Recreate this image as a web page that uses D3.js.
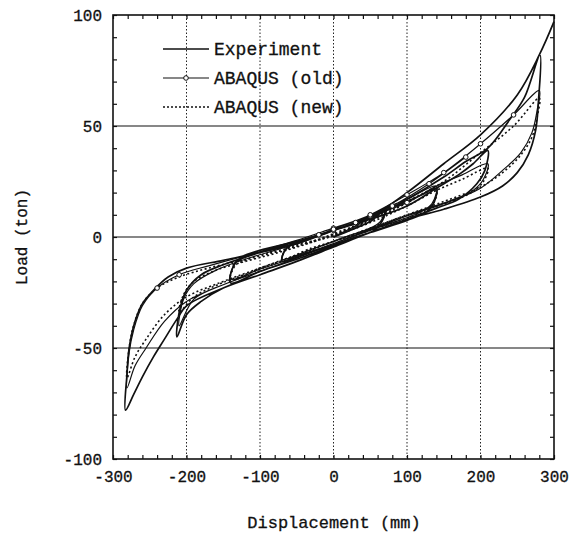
<!DOCTYPE html>
<html><head><meta charset="utf-8">
<script src="https://cdn.jsdelivr.net/npm/d3@7"></script>
<style>
body{margin:0;background:#fff;}
text{font-family:"Liberation Mono","Courier New",monospace;fill:#111;stroke:#111;stroke-width:0.3px;}
</style></head>
<body><svg id="c" width="574" height="538"></svg>
<script>
// ---- data ----
const xTicks = [-300, -200, -100, 0, 100, 200, 300];
const yTicks = [-100, -50, 0, 50, 100];
const xGrid = [-200, -100, 0, 100, 200];
const yGrid = [-50, 0, 50];
const legendLabels = ["Experiment", "ABAQUS (old)", "ABAQUS (new)"];

const expX = [0,30,50,70, 66,55,30,0,-30,-50,-70, -66,-55,-30,0,30,50,70,100,120,140,
  136,125,100,50,0,-50,-100,-140, -136,-125,-100,-50,0,50,100,140,170,190,210,
  206,195,170,140,100,50,0,-50,-100,-150,-180,-200,-213,
  -210,-200,-180,-150,-100,-50,0,50,100,150,180,210,240,260,281,
  279,275,265,250,230,200,150,100,50,0,-50,-100,-150,-200,-213,-230,-245,-260,-272,-283,
  -281,-278,-270,-260,-245,-225,-200,-150,-100,-50,0,50,100,150,200,250,280,300];
const expY = [0,4,7,12, 7,3,0,-3.5,-6.5,-8.5,-11, -6,-3,-0.5,3,6,8.5,12,16,19,22,
  15,11,7.5,2,-4,-10,-15.5,-20.7, -13,-9,-6,-2,3,8,14,22,28,33,39,
  30,24,17,13,8,2,-4.5,-11,-17,-23,-29,-35,-45,
  -34,-24,-17,-12.5,-7,-2,3,8.5,17,27,34,40,53,63,82,
  62,48,37,29,23,18,12.5,8,2,-4.5,-11,-17,-23,-31,-37,-46,-54,-63,-71,-78,
  -62,-50,-38,-30,-24,-18,-14,-10.5,-7,-3,3,9,20,33,46,64,82,97];

const oldX = [0,35,70, 64,50,20,0,-30,-70, -64,-50,-20,0,40,70,100,140,
  134,120,90,50,0,-50,-100,-140, -134,-120,-90,-50,0,50,100,140,175,210,
  204,190,160,120,80,40,0,-50,-100,-150,-190,-210,
  -204,-190,-160,-120,-80,-40,0,50,100,150,200,245,280,
  277,270,255,230,200,150,100,50,0,-50,-100,-150,-200,-230,-255,-270,-281,
  -278,-272,-260,-240,-210,-170,-120,-70,-20,30,80,130,180];
const oldY = [0,6,13, 7,4,0.5,-2,-5.5,-10, -5,-2.5,0.5,3,8,13,17,23,
  15,11.5,7.5,3,-3,-9,-14.5,-19, -12,-9,-5.5,-1.5,4,9.5,15.5,23,28,33,
  26,21,16.5,12,7,2,-3,-9.5,-15.5,-21.5,-28,-40,
  -28,-21,-15,-10,-6,-2,3.5,10,19,29,42,55,66,
  57,47,38,30,22,15,9.5,3.5,-3,-9.5,-15.5,-21.5,-29,-38,-50,-58,-68,
  -52,-42,-31,-23,-17,-13,-8.5,-4.5,1,6.5,14,24,36];
const oldMarkers = [12,29,30,31,53,54,55,56,57,58,80,81,85,86,87,88,89];

const newX = [0,35,70, 64,50,20,0,-30,-70, -64,-50,-20,0,40,70,100,140,
  134,120,90,50,0,-50,-100,-140, -134,-120,-90,-50,0,50,100,140,175,210,
  204,190,160,120,80,40,0,-50,-100,-150,-190,-210,
  -204,-190,-160,-120,-80,-40,0,50,100,150,200,245,280,
  277,270,255,230,200,150,100,50,0,-50,-100,-150,-200,-230,-255,-270,-281,
  -278,-272,-260,-240,-210,-170,-120,-70,-20,30,80,110];
const newY = [0,5.5,11.5, 6.5,3.5,0,-2,-5,-10, -5.5,-3.5,-1,1.5,6.5,11.5,16,21,
  14,11,7.5,3,-2,-8.5,-14,-19.5, -13,-10.5,-7.5,-4,0.5,6.5,14,21,26,31,
  25,20.5,16,12,7.5,2.5,-2,-8.5,-14.5,-20.5,-27,-34,
  -26,-20,-15,-11,-7.5,-3.5,1,8,16,25,38,50,62.6,
  54,45,37,29,22.5,16,10,4,-2,-8,-14,-20,-27,-35,-46,-54,-63.5,
  -50,-40,-30,-23,-18,-14,-10,-6,-1,4.5,12,17];

// ---- chart ----
const L = 113, R = 554, T = 15, B = 459;
const svg = d3.select("#c");
const x = d3.scaleLinear().domain([-300, 300]).range([L, R]);
const y = d3.scaleLinear().domain([-100, 100]).range([B, T]);

// grid
svg.append("g").selectAll("line").data(xGrid).join("line")
  .attr("x1", d => x(d)).attr("x2", d => x(d)).attr("y1", T).attr("y2", B)
  .attr("stroke", "#222").attr("stroke-width", 1).attr("stroke-dasharray", "1.5,2");
svg.append("g").selectAll("line").data(yGrid).join("line")
  .attr("x1", L).attr("x2", R).attr("y1", d => y(d)).attr("y2", d => y(d))
  .attr("stroke", "#111").attr("stroke-width", 1.2);

// minor ticks (inward)
function minor(axis, tr) {
  const g = svg.append("g").attr("transform", tr).call(axis);
  g.select(".domain").remove();
  g.selectAll("line").attr("stroke", "#111").attr("stroke-width", 1.2);
  g.selectAll("text").remove();
}
const xMinor = d3.range(-300, 301, 20);
const yMinor = d3.range(-100, 101, 10);
minor(d3.axisBottom(x).tickValues(xMinor).tickSize(-4), `translate(0,${B})`);
minor(d3.axisTop(x).tickValues(xMinor).tickSize(-4), `translate(0,${T})`);
minor(d3.axisLeft(y).tickValues(yMinor).tickSize(-4), `translate(${L},0)`);
minor(d3.axisRight(y).tickValues(yMinor).tickSize(-4), `translate(${R},0)`);

// frame
svg.append("rect").attr("x", L).attr("y", T).attr("width", R - L).attr("height", B - T)
  .attr("fill", "none").attr("stroke", "#111").attr("stroke-width", 1.6);

// tick labels
const gx = svg.append("g").attr("transform", `translate(0,${B})`)
  .call(d3.axisBottom(x).tickValues(xTicks).tickSize(0).tickPadding(12).tickFormat(d => String(d)));
gx.select(".domain").remove();
gx.selectAll("text").attr("font-size", 16).attr("font-family", "Liberation Mono").attr("fill", "#111");
const gy = svg.append("g").attr("transform", `translate(${L},0)`)
  .call(d3.axisLeft(y).tickValues(yTicks).tickSize(0).tickPadding(11).tickFormat(d => String(d)));
gy.select(".domain").remove();
gy.selectAll("text").attr("font-size", 16).attr("font-family", "Liberation Mono").attr("fill", "#111");

// axis titles
svg.append("text").attr("x", 334).attr("y", 528).attr("text-anchor", "middle")
  .attr("font-size", 17).text("Displacement (mm)");
svg.append("text").attr("transform", `translate(27,${(T + B) / 2}) rotate(-90)`)
  .attr("text-anchor", "middle").attr("font-size", 16).text("Load (ton)");

// curves
const line = d3.line().x(d => x(d[0])).y(d => y(d[1])).curve(d3.curveCatmullRom.alpha(0.5));
const expPts = expX.map((v, i) => [v, expY[i]]);
const oldPts = oldX.map((v, i) => [v, oldY[i]]);
const newPts = newX.map((v, i) => [v, newY[i]]);

svg.append("path").attr("d", line(newPts)).attr("fill", "none")
  .attr("stroke", "#111").attr("stroke-width", 1.6).attr("stroke-dasharray", "2,2.5");
svg.append("path").attr("d", line(oldPts)).attr("fill", "none")
  .attr("stroke", "#111").attr("stroke-width", 1.2);
svg.append("path").attr("d", line(expPts)).attr("fill", "none")
  .attr("stroke", "#111").attr("stroke-width", 1.7);
svg.append("g").selectAll("circle").data(oldMarkers.map(i => oldPts[i])).join("circle")
  .attr("cx", d => x(d[0])).attr("cy", d => y(d[1])).attr("r", 2.3)
  .attr("fill", "#fff").attr("stroke", "#111").attr("stroke-width", 1);

// legend
const lg = svg.append("g");
const ly = [49, 78, 107];
legendLabels.forEach((t, i) => {
  const l = lg.append("line").attr("x1", 163).attr("x2", 209).attr("y1", ly[i]).attr("y2", ly[i])
    .attr("stroke", "#111").attr("stroke-width", i === 1 ? 1.2 : 1.7);
  if (i === 2) l.attr("stroke-dasharray", "2,2");
  if (i === 1) lg.append("circle").attr("cx", 186).attr("cy", ly[i]).attr("r", 2.3)
    .attr("fill", "#fff").attr("stroke", "#111");
  lg.append("text").attr("x", 214).attr("y", ly[i]).attr("dy", "0.35em")
    .attr("font-size", 18).text(t);
});
</script></body></html>
